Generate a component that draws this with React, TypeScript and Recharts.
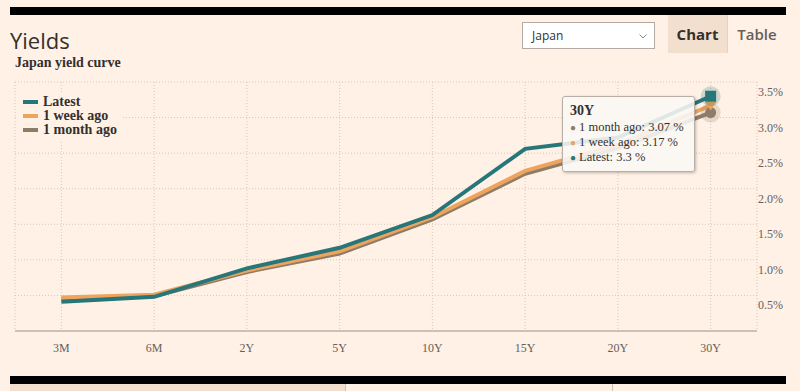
import { LineChart, Line, XAxis, YAxis, CartesianGrid, Tooltip, Legend } from 'recharts'

const tenors = ['3M', '6M', '2Y', '5Y', '10Y', '15Y', '20Y', '30Y']
const latest = [0.41, 0.48, 0.88, 1.17, 1.63, 2.56, 2.72, 3.3]
const weekAgo = [0.47, 0.51, 0.85, 1.12, 1.6, 2.25, 2.62, 3.17]
const monthAgo = [0.45, 0.49, 0.83, 1.09, 1.57, 2.21, 2.57, 3.07]
const yTicks = [0.5, 1, 1.5, 2, 2.5, 3, 3.5]

const data = tenors.map((t, i) => ({
  tenor: t,
  latest: latest[i],
  week: weekAgo[i],
  month: monthAgo[i],
}))

const TEAL = '#26767a'
const ORANGE = '#eea45c'
const BROWN = '#8e7c69'
const SERIF = '"Liberation Serif", "DejaVu Serif", serif'
const SANS = '"Open Sans", "Noto Sans", sans-serif'

const series = [
  { key: 'month', name: '1 month ago', color: BROWN },
  { key: 'week', name: '1 week ago', color: ORANGE },
  { key: 'latest', name: 'Latest', color: TEAL },
]

function XTick({ x, y, payload }: any) {
  return (
    <text x={x} y={y + 21} textAnchor="middle" fontFamily={SERIF} fontSize={12} fill="#66605c">
      {payload.value}
    </text>
  )
}

function YTick({ x, y, payload }: any) {
  return (
    <text x={x + 1} y={y + 14} textAnchor="start" fontFamily={SERIF} fontSize={12} fill="#66605c">
      {payload.value.toFixed(1)}%
    </text>
  )
}

function LegendBox() {
  const rows = [...series].reverse()
  return (
    <div style={{ background: '#fff1e5', padding: '2px 6px 4px 6px' }}>
      {rows.map((s) => (
        <div key={s.key} style={{ display: 'flex', alignItems: 'center', height: 14 }}>
          <span style={{ display: 'inline-block', width: 15, height: 4, background: s.color, marginRight: 5 }} />
          <span style={{ fontFamily: SERIF, fontWeight: 700, fontSize: 14, color: '#33302e' }}>{s.name}</span>
        </div>
      ))}
    </div>
  )
}

function TipBox({ active, payload, label }: any) {
  if (!active || !payload?.length) return null
  return (
    <div
      style={{
        width: 117,
        padding: '6px 7px 6px 7px',
        background: 'rgba(250,248,246,0.88)',
        border: '1px solid #b9afa6',
        borderRadius: 3,
        boxShadow: '1px 1px 3px rgba(0,0,0,0.25)',
        fontFamily: SERIF,
        color: '#33302e',
      }}
    >
      <div style={{ fontWeight: 700, fontSize: 14, lineHeight: '16px', marginBottom: 1 }}>{label}</div>
      {payload.map((p: any) => (
        <div key={p.dataKey} style={{ fontSize: 12.5, lineHeight: '15px', whiteSpace: 'nowrap' }}>
          <span style={{ color: p.color, fontSize: 10, marginRight: 3 }}>●</span>
          {p.name}: {p.value} %
        </div>
      ))}
    </div>
  )
}

const squareDot = ({ cx, cy }: any) => (
  <g>
    <circle cx={cx} cy={cy} r={10} fill={TEAL} fillOpacity={0.22} />
    <rect x={cx - 5.5} y={cy - 5.5} width={11} height={11} fill={TEAL} />
  </g>
)

const triangleDot = ({ cx, cy }: any) => (
  <path d={`M${cx - 6},${cy - 4} L${cx + 6},${cy - 4} L${cx},${cy + 5} Z`} fill={ORANGE} />
)

const circleDot = ({ cx, cy }: any) => (
  <g>
    <circle cx={cx} cy={cy} r={10} fill={BROWN} fillOpacity={0.22} />
    <circle cx={cx} cy={cy} r={5.5} fill={BROWN} />
  </g>
)

const activeDots: Record<string, any> = { latest: squareDot, week: triangleDot, month: circleDot }

export default function App() {
  return (
    <div style={{ position: 'relative', width: 800, height: 391, background: '#fff1e5', overflow: 'hidden' }}>
      <style>{'body{margin:0}'}</style>
      <div style={{ position: 'absolute', left: 10, top: 7, width: 776, height: 8, background: '#000' }} />
      <div style={{ position: 'absolute', left: 10, top: 376, width: 776, height: 8, background: '#000' }} />
      <div style={{ position: 'absolute', left: 10, top: 384, width: 335, height: 7, background: '#f2dfce' }} />
      <div style={{ position: 'absolute', left: 345, top: 384, width: 1, height: 7, background: '#ccc1b7' }} />
      <div style={{ position: 'absolute', left: 612, top: 384, width: 1, height: 7, background: '#ccc1b7' }} />

      <div style={{ position: 'absolute', left: 10, top: 26, fontFamily: SANS, fontSize: 22, color: '#33302e', lineHeight: '28px' }}>
        Yields
      </div>
      <div style={{ position: 'absolute', left: 15, top: 55, fontFamily: SERIF, fontWeight: 700, fontSize: 14, color: '#33302e' }}>
        Japan yield curve
      </div>

      <div
        style={{
          position: 'absolute', left: 522, top: 22, width: 122, height: 25, background: '#fff',
          border: '1px solid #b3aba3', fontFamily: SANS, fontSize: 12, color: '#33302e',
          display: 'flex', alignItems: 'center', paddingLeft: 9, boxSizing: 'content-box',
        }}
      >
        Japan
        <svg width="8" height="5" style={{ position: 'absolute', right: 7, top: 11 }}>
          <path d="M0.5,0.5 L4,4 L7.5,0.5" fill="none" stroke="#888" strokeWidth="1" />
        </svg>
      </div>
      <div
        style={{
          position: 'absolute', left: 668, top: 15, width: 59, height: 38, background: '#f2dfce',
          borderRight: '1px solid #e6d2c0', fontFamily: SANS, fontSize: 15, fontWeight: 700,
          color: '#33302e', display: 'flex', alignItems: 'center', justifyContent: 'center',
        }}
      >
        Chart
      </div>
      <div
        style={{
          position: 'absolute', left: 729, top: 15, width: 56, height: 38, fontFamily: SANS, fontSize: 15,
          fontWeight: 600, color: '#66605c', display: 'flex', alignItems: 'center', justifyContent: 'center',
        }}
      >
        Table
      </div>

      <div style={{ position: 'absolute', left: 0, top: 0 }}>
        <LineChart width={800} height={391} data={data} margin={{ top: 82, right: 0, bottom: 0, left: 15 }}>
          <CartesianGrid stroke="#d8c8ba" strokeDasharray="1 2" />
          <XAxis
            dataKey="tenor"
            scale="band"
            height={60}
            tickLine={false}
            tickSize={0}
            tickMargin={0}
            axisLine={{ stroke: '#cdc1b6', strokeWidth: 2 }}
            tick={<XTick />}
            interval={0}
          />
          <YAxis
            orientation="right"
            width={43}
            domain={[0, 3.5]}
            ticks={yTicks}
            axisLine={false}
            tickLine={false}
            tickSize={0}
            tickMargin={0}
            tick={<YTick />}
          />
          <Legend
            layout="vertical"
            align="center"
            verticalAlign="middle"
            wrapperStyle={{ top: 93, left: 17, width: 'auto' }}
            content={<LegendBox />}
          />
          <Tooltip
            active
            defaultIndex={7}
            cursor={false}
            position={{ x: 562, y: 96 }}
            isAnimationActive={false}
            content={<TipBox />}
          />
          {series.map((s) => (
            <Line
              key={s.key}
              type="linear"
              dataKey={s.key}
              name={s.name}
              stroke={s.color}
              strokeWidth={4}
              dot={false}
              activeDot={activeDots[s.key]}
              isAnimationActive={false}
            />
          ))}
        </LineChart>
      </div>
    </div>
  )
}
